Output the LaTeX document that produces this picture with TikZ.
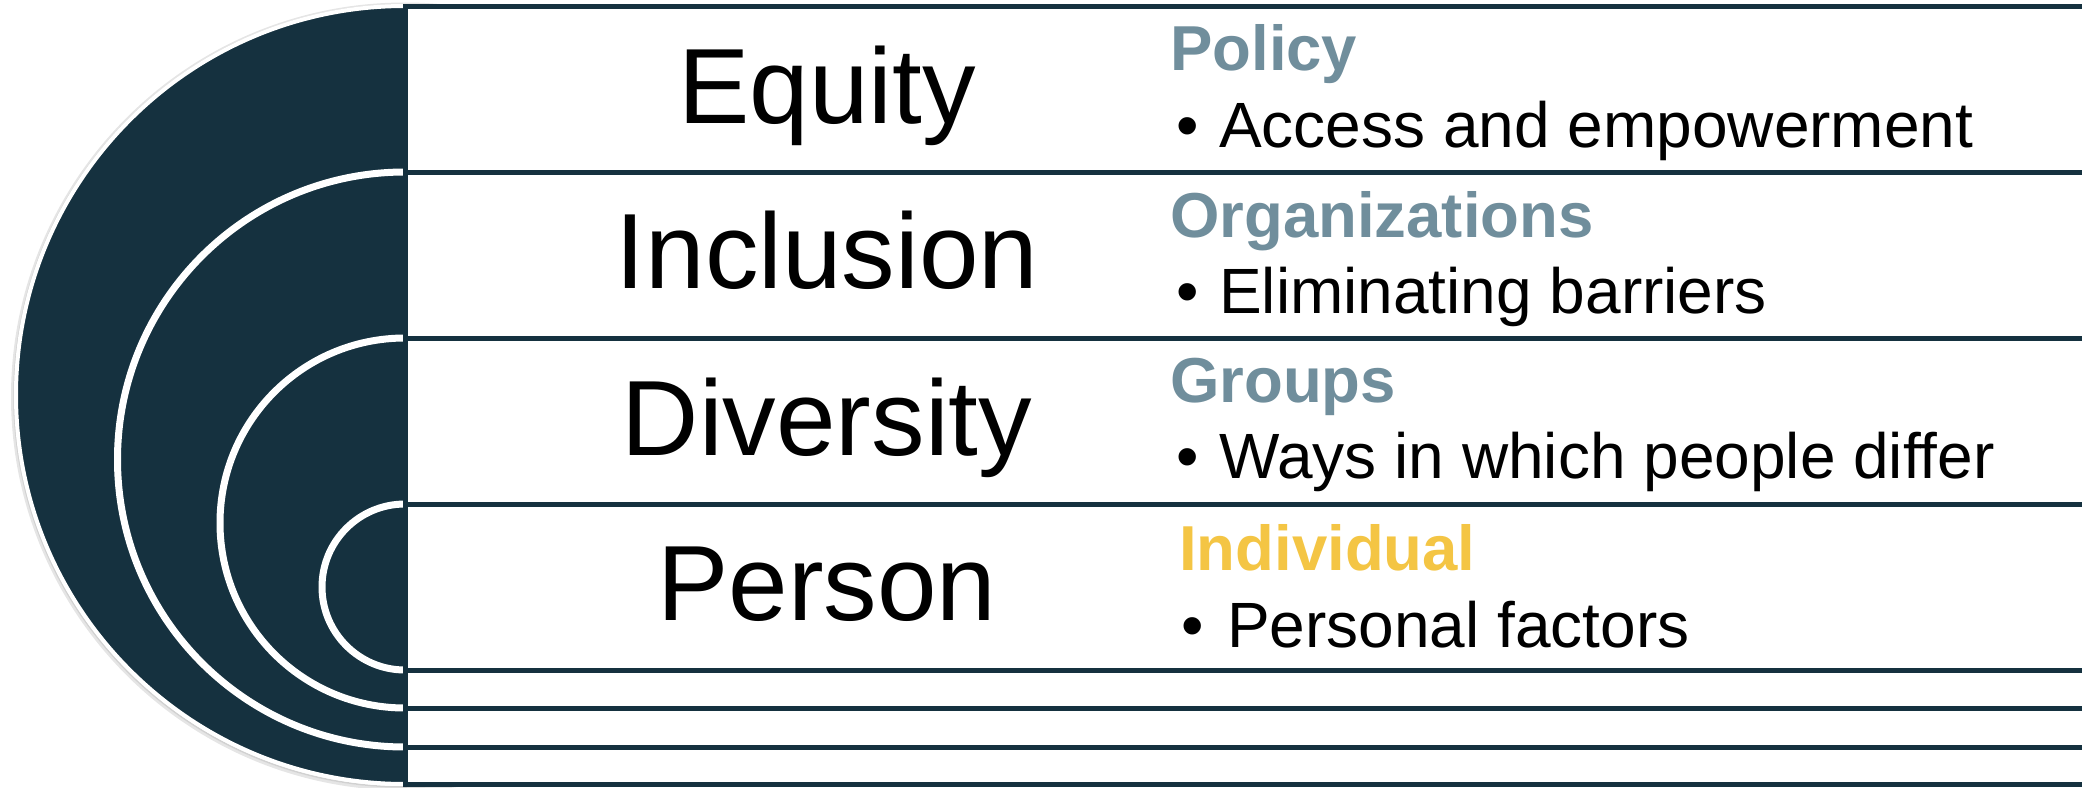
\documentclass[tikz,border=0pt]{standalone}
\usepackage{fontspec}
\setmainfont{Liberation Sans}
\definecolor{navy}{HTML}{15313F}
\definecolor{slate}{HTML}{708E9C}
\definecolor{gold}{HTML}{F4C544}
\begin{document}
\begin{tikzpicture}[x=1pt,y=-1pt,
  disc/.style={fill=navy,draw=white,line width=7},
  panel/.style={fill=white,draw=navy,line width=5},
  level/.style={anchor=base,inner sep=0,font=\fontsize{107}{120}\selectfont},
  head/.style={anchor=base west,inner sep=0,font=\fontsize{63.5}{70}\selectfont\bfseries,text=slate},
  item/.style={anchor=base west,inner sep=0,font=\fontsize{64}{70}\selectfont}]
\useasboundingbox (0,0) rectangle (2082,787);
\clip (0,0) rectangle (2082,787);

% soft shadow round the outer disc
\draw[black!10,line width=3] (405,396.5) circle (392.5);
\draw[black!18,line width=1.5] (405,396) circle (391);

% nested discs; their right halves are hidden by the panels
\filldraw[disc,line width=4] (405,395) circle (389);
\filldraw[disc] (405,459.5) circle (287.5);
\filldraw[disc] (405,523) circle (185);
\filldraw[disc] (405,587) circle (83);

% nested panels, running off to the right
\filldraw[panel] (405,6) rectangle (2120,784);
\filldraw[panel] (405,172) rectangle (2120,747);
\filldraw[panel] (405,338) rectangle (2120,708);
\filldraw[panel] (405,504) rectangle (2120,670);

% level names
\node[level] (equity)    at (827,123) {Equity};
\node[level] (inclusion) at (827,288) {Inclusion};
\node[level] (diversity) at (827,455) {Diversity};
\node[level] (person)    at (827,620) {Person};

% scope headings and bullet points
\node[head] (policy) at (1170,70)  {Policy};
\node[item] (access) at (1176,147) {\makebox[43pt][l]{•}Access and empowerment};

\node[head] (orgs)    at (1170,237) {Organizations};
\node[item] (barrier) at (1176,313) {\makebox[43pt][l]{•}Eliminating barriers};

\node[head] (groups) at (1170,402) {Groups};
\node[item] (ways)   at (1176,478) {\makebox[43pt][l]{•}Ways in which people differ};

\node[head,text=gold] (indiv)   at (1179,570) {Individual};
\node[item]           (factors) at (1181,647) {\makebox[46pt][l]{•}Personal factors};
\end{tikzpicture}
\end{document}
